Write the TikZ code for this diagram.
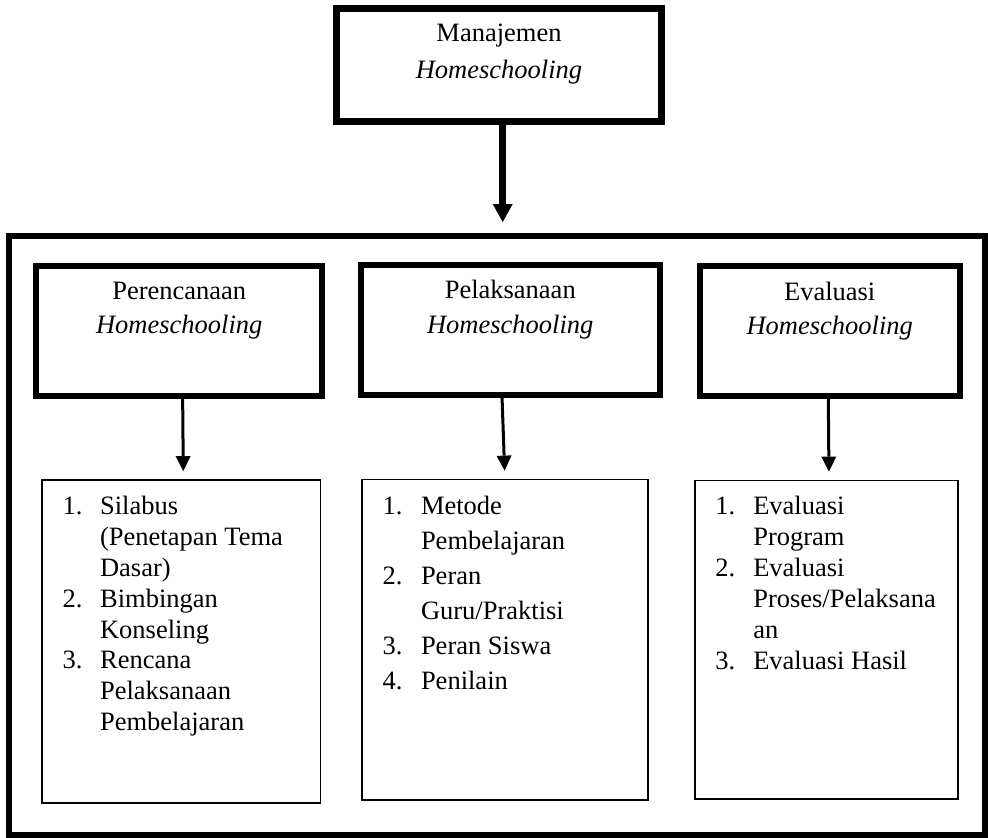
\documentclass[tikz,border=0pt]{standalone}
\usepackage{fontspec}
\setmainfont{Liberation Serif}
\usetikzlibrary{arrows.meta,calc}

\begin{document}
\begin{tikzpicture}[
  x=1pt, y=-1pt,
  font=\fontsize{26.5}{35}\selectfont,
  >={Triangle[length=15pt,width=15pt,line width=0pt]},
  headbox/.style ={draw,rectangle,line width=6pt,inner sep=0pt,minimum height=130pt},
  listbox/.style ={draw,rectangle,line width=1.8pt,inner sep=0pt},
  headtext/.style={anchor=base,inner sep=0pt,font=\fontsize{26.5}{34.5}\selectfont},
  listtext/.style={anchor=base west,inner sep=0pt,font=\fontsize{26.5}{30.8}\selectfont},
  link/.style    ={->,line width=3pt,shorten >=8pt},
]
\useasboundingbox (0,0) rectangle (988,838);

%% =============================================
%% Top box
%% =============================================
\node[headbox,line width=7pt,minimum width=325pt,minimum height=113.4pt] (manaj) at (499,65) {};
\node[headtext,font=\fontsize{26.5}{36.5}\selectfont] (mantext) at ($(manaj.north)+(0,36.7)$)
  {\begin{tabular}[t]{@{}c@{}}Manajemen\\\textit{Homeschooling}\end{tabular}};

%% =============================================
%% Outer frame
%% =============================================
\node[draw,rectangle,line width=6pt,inner sep=0pt,minimum width=975.2pt,minimum height=599.5pt]
  (frame) at (496.9,535.25) {};

%% =============================================
%% Three stages
%% =============================================
\node[headbox,minimum width=285.9pt] (plan) at (179.25,330.5) {};
\node[headbox,minimum width=298.9pt] (impl) at (510.25,329.5) {};
\node[headbox,minimum width=260pt,minimum height=129.2pt] (eval) at (829.7,330.9) {};

\node[headtext] (plantext) at ($(plan.north)+(0,36.8)$)
  {\begin{tabular}[t]{@{}c@{}}Perencanaan\\\textit{Homeschooling}\end{tabular}};
\node[headtext] (impltext) at ($(impl.north)+(0,37.2)$)
  {\begin{tabular}[t]{@{}c@{}}Pelaksanaan\\\textit{Homeschooling}\end{tabular}};
\node[headtext] (evaltext) at ($(eval.north)+(0,37)$)
  {\begin{tabular}[t]{@{}c@{}}Evaluasi\\\textit{Homeschooling}\end{tabular}};

%% =============================================
%% Lists
%% =============================================
\node[listbox,minimum width=278.3pt,minimum height=323pt] (planlist) at (181.35,641.5) {};
\node[listbox,minimum width=285.8pt,minimum height=320.5pt] (impllist) at (504.9,639.75) {};
\node[listbox,minimum width=263pt,minimum height=318.8pt] (evallist) at (826.2,639.9) {};

\node[listtext] (planitems) at ($(planlist.north west)+(21.1,35.7)$)
  {\begin{tabular}[t]{@{}p{37.5pt}@{}l@{}}
   1. & Silabus\\
      & (Penetapan Tema\\
      & Dasar)\\
   2. & Bimbingan\\
      & Konseling\\
   3. & Rencana\\
      & Pelaksanaan\\
      & Pembelajaran
   \end{tabular}};
\node[listtext,font=\fontsize{26.5}{35}\selectfont] (implitems) at ($(impllist.north west)+(21.3,35.5)$)
  {\begin{tabular}[t]{@{}p{38.4pt}@{}l@{}}
   1. & Metode\\
      & Pembelajaran\\
   2. & Peran\\
      & Guru/Praktisi\\
   3. & Peran Siswa\\
   4. & Penilain
   \end{tabular}};
\node[listtext,font=\fontsize{26.5}{31}\selectfont] (evalitems) at ($(evallist.north west)+(21.3,34.5)$)
  {\begin{tabular}[t]{@{}p{38pt}@{}l@{}}
   1. & Evaluasi\\
      & Program\\
   2. & Evaluasi\\
      & Proses/Pelaksana\\
      & an\\
   3. & Evaluasi Hasil
   \end{tabular}};

%% =============================================
%% Connections
%% =============================================
\draw[->,line width=6.7pt,shorten >=10.5pt,>={Triangle[length=18pt,width=20pt,line width=0pt]}]
  ([xshift=3.7pt]manaj.south) -- ([xshift=3.7pt]manaj.south |- frame.north);
\draw[link] ([xshift=3.4pt]plan.south) -- ([xshift=2pt]planlist.north);
\draw[link] ([xshift=-8.2pt]impl.south) -- ([xshift=0pt]impllist.north);
\draw[link] ([xshift=-1.4pt]eval.south) -- ([xshift=2.8pt]evallist.north);

\end{tikzpicture}
\end{document}
